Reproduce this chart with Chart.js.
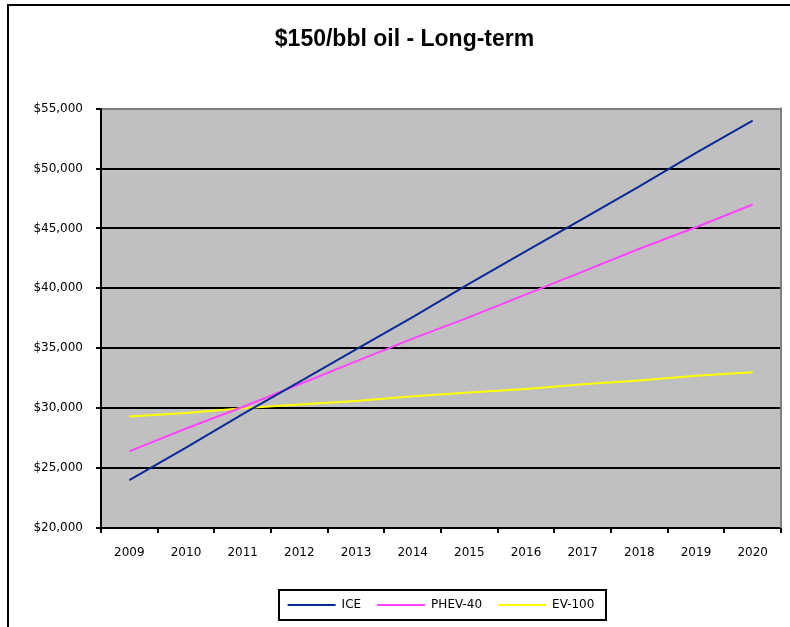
<!DOCTYPE html>
<html>
<head>
<meta charset="utf-8">
<script src="https://cdn.jsdelivr.net/npm/chart.js@4.4.1/dist/chart.umd.min.js"></script>
<style>
  html, body { margin: 0; padding: 0; background: #fff; overflow: hidden; }
  #wrap { position: relative; width: 790px; height: 627px; }
  #frame {
    position: absolute; left: 7px; top: 4px; width: 900px; height: 900px;
    border: 2px solid #000; pointer-events: none;
  }
</style>
</head>
<body>
<div id="wrap">
  <canvas id="chart" width="790" height="627"></canvas>
  <div id="frame"></div>
</div>
<script>
// vehicle cost over time, $150/bbl scenario
const years = ["2009", "2010", "2011", "2012", "2013", "2014", "2015", "2016", "2017", "2018", "2019", "2020"];
const iceCost = [24000, 26700, 29500, 32200, 34900, 37600, 40400, 43100, 45800, 48500, 51300, 54000];
const phev40Cost = [26400, 28300, 30100, 32000, 33900, 35800, 37600, 39500, 41400, 43300, 45100, 47000];
const ev100Cost = [29300, 29600, 30000, 30300, 30600, 31000, 31300, 31600, 32000, 32300, 32700, 33000];

const yMin = 20000;
const yMax = 55000;
const yStep = 5000;

const TICK_FONT = { family: "DejaVu Sans", size: 12 };

// gray plot background
const plotBg = {
  id: "plotBg",
  beforeDraw(chart) {
    const { ctx, chartArea: a } = chart;
    ctx.save();
    ctx.fillStyle = "#c0c0c0";
    ctx.fillRect(a.left, a.top, a.right - a.left, a.bottom - a.top);
    ctx.restore();
  },
  afterDatasetsDraw(chart) {
    // gray edge on the right side of the plot
    const { ctx, chartArea: a } = chart;
    ctx.save();
    ctx.strokeStyle = "#808080";
    ctx.lineWidth = 2;
    ctx.beginPath();
    ctx.moveTo(a.right, a.top - 1);
    ctx.lineTo(a.right, a.bottom);
    ctx.stroke();
    ctx.restore();
  },
};

// black box round the legend entries
const legendFrame = {
  id: "legendFrame",
  afterDraw(chart) {
    const boxes = chart.legend && chart.legend.legendHitBoxes;
    if (!boxes || !boxes.length) return;
    let l = Infinity, r = -Infinity, t = Infinity, b = -Infinity;
    boxes.forEach((h) => {
      l = Math.min(l, h.left);
      r = Math.max(r, h.left + h.width);
      t = Math.min(t, h.top);
      b = Math.max(b, h.top + h.height);
    });
    const ctx = chart.ctx;
    ctx.save();
    ctx.strokeStyle = "#000";
    ctx.lineWidth = 2;
    ctx.strokeRect(Math.round(l - 9), Math.round(t - 9), Math.round(r - l + 20), Math.round(b - t + 18));
    ctx.restore();
  },
};

new Chart(document.getElementById("chart"), {
  type: "line",
  data: {
    labels: years,
    datasets: [
      { label: "ICE", data: iceCost, borderColor: "#0a2a96", backgroundColor: "#0a2a96" },
      { label: "PHEV-40", data: phev40Cost, borderColor: "#ff44ff", backgroundColor: "#ff44ff" },
      { label: "EV-100", data: ev100Cost, borderColor: "#ffff00", backgroundColor: "#ffff00" },
    ],
  },
  options: {
    responsive: false,
    animation: false,
    layout: { padding: { left: 28, right: 9, top: 0, bottom: 6 } },
    elements: {
      line: { borderWidth: 2, tension: 0, fill: false },
      point: { radius: 0, hoverRadius: 0, borderWidth: 2 },
    },
    plugins: {
      title: {
        display: true,
        text: "$150/bbl oil - Long-term",
        color: "#000",
        font: { family: "Liberation Sans", size: 23, weight: "bold", lineHeight: 1.2 },
        padding: { top: 26, bottom: 55 },
      },
      legend: {
        position: "bottom",
        fullSize: false,
        labels: {
          usePointStyle: true,
          pointStyle: "line",
          pointStyleWidth: 48,
          color: "#000",
          font: TICK_FONT,
          padding: 16,
        },
      },
      tooltip: { enabled: false },
    },
    scales: {
      x: {
        offset: true,
        afterFit(scale) { scale.height = 55; },
        grid: {
          offset: true,
          drawOnChartArea: false,
          drawTicks: true,
          tickLength: 5,
          tickColor: "#000",
          lineWidth: 2,
        },
        border: { display: true, color: "#000", width: 2 },
        ticks: { color: "#000", font: TICK_FONT, padding: 13, maxRotation: 0 },
      },
      y: {
        min: yMin,
        max: yMax,
        afterFit(scale) { scale.width = 73; },
        grid: {
          color: (c) => (c.tick && c.tick.value === yMax ? "#808080" : "#000"),
          tickColor: "#000",
          tickLength: 5,
          lineWidth: 2,
        },
        border: { display: true, color: "#000", width: 2 },
        ticks: {
          stepSize: yStep,
          color: "#000",
          font: TICK_FONT,
          padding: 13,
          callback: (v) => "$" + Number(v).toLocaleString("en-US"),
        },
      },
    },
  },
  plugins: [plotBg, legendFrame],
});
</script>
</body>
</html>
